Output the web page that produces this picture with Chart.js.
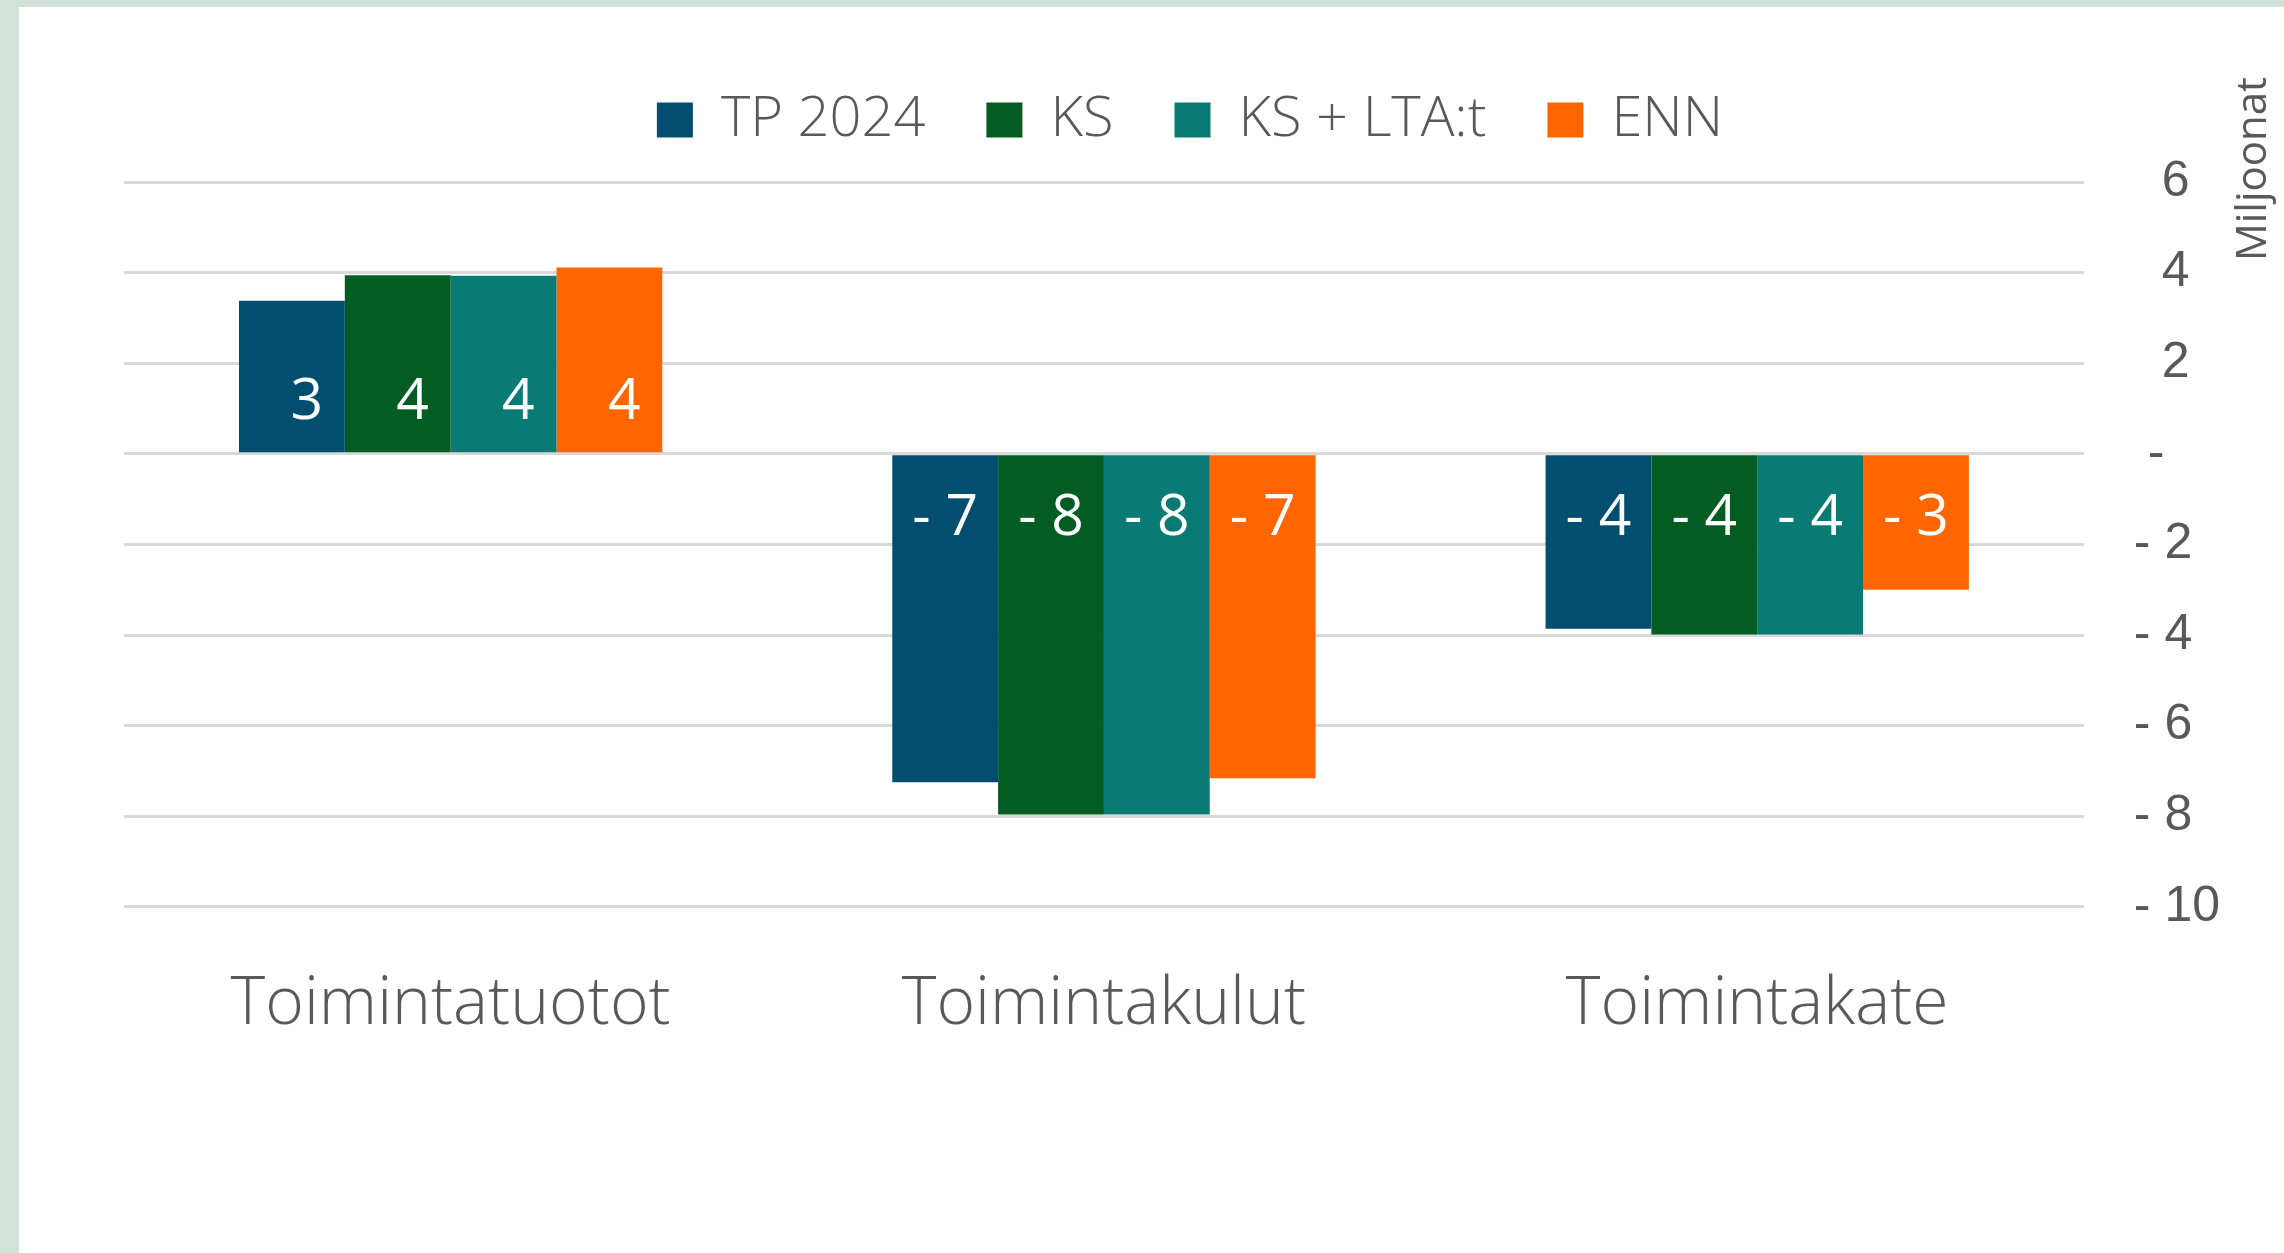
<!DOCTYPE html>
<html>
<head>
<meta charset="utf-8">
<script src="https://cdn.jsdelivr.net/npm/chart.js@4.4.1/dist/chart.umd.min.js"></script>
<style>
    html, body {
        margin: 0;
        padding: 0;
        width: 2284px;
        height: 1253px;
        overflow: hidden;
        background: #d3e2d6;
    }
    #wrap {
        position: absolute;
        left: 19px;
        top: 7px;
        width: 2265px;
        height: 1246px;
        background: #ffffff;
    }
</style>
</head>
<body>
<div id="wrap"><canvas id="chart"></canvas></div>
<script>
const categories = ["Toimintatuotot", "Toimintakulut", "Toimintakate"]
const seriesNames = ["TP 2024", "KS", "KS + LTA:t", "ENN"]
const tp2024 = [3.38, -7.25, -3.86]
const ks = [3.94, -7.96, -3.99]
const ksLta = [3.93, -7.96, -3.99]
const enn = [4.11, -7.16, -3.0]
const yTicks = [6, 4, 2, 0, -2, -4, -6, -8, -10]
const axisTitleText = "Miljoonat"

const colors = ["#024e6f", "#035c21", "#0a7a74", "#ff6600"]
const textGrey = "#595959"

// excel style "- 7", " -", "  3"
function fmtNum(v) {
    if (v < 0) return "- " + Math.abs(v)
    if (v === 0) return " -"
    return "  " + v
}

const barLabels = {
    id: "barLabels",
    afterDatasetsDraw(chart) {
        const ctx = chart.ctx
        ctx.save()
        ctx.font = "400 57px 'Open Sans'"
        ctx.fillStyle = "#ffffff"
        ctx.textAlign = "center"
        ctx.textBaseline = "alphabetic"
        chart.data.datasets.forEach((ds, i) => {
            chart.getDatasetMeta(i).data.forEach((bar, j) => {
                const v = Math.round(ds.data[j])
                const y = v >= 0 ? bar.base - 33 : bar.base + 80
                ctx.fillText(fmtNum(v), bar.x, y)
            })
        })
        ctx.restore()
    },
}

// right axis title reads bottom-to-top, chart.js would rotate it the other way
const axisTitle = {
    id: "axisTitle",
    afterDraw(chart) {
        const ctx = chart.ctx
        const yScale = chart.scales.y
        ctx.save()
        ctx.translate(yScale.right - 16, chart.chartArea.top - 13)
        ctx.rotate(-Math.PI / 2)
        ctx.font = "400 42px 'Open Sans'"
        ctx.fillStyle = textGrey
        ctx.textAlign = "center"
        ctx.textBaseline = "middle"
        ctx.fillText(axisTitleText, 0, 0)
        ctx.restore()
    },
}

const legendSpacing = {
    id: "legendSpacing",
    beforeLayout(chart) {
        const legend = chart.legend
        if (legend._patched) return
        const fit = legend.fit
        legend.fit = function () {
            fit.call(this)
            this.height += 24
        }
        legend._patched = true
    },
    afterLayout(chart) {
        chart.legend.left -= 7
        chart.legend.right -= 7
    },
}

const datasets = [tp2024, ks, ksLta, enn].map((data, i) => ({
    label: seriesNames[i],
    data: data,
    backgroundColor: colors[i],
    borderWidth: 0,
    barPercentage: 1,
    categoryPercentage: 0.648,
}))

Chart.defaults.font.family = "'Open Sans'"
Chart.defaults.color = textGrey

new Chart(document.getElementById("chart").getContext("2d"), {
    type: "bar",
    plugins: [barLabels, axisTitle, legendSpacing],
    data: {
        labels: categories,
        datasets,
    },
    options: {
        responsive: true,
        maintainAspectRatio: false,
        animation: false,
        layout: {
            padding: {
                top: 24,
                left: 105,
                right: 14,
                bottom: 157,
            },
        },
        plugins: {
            legend: {
                position: "top",
                labels: {
                    boxWidth: 36,
                    boxHeight: 35,
                    padding: 61,
                    color: textGrey,
                    font: {
                        size: 56,
                        weight: 300,
                    },
                },
            },
            tooltip: {
                enabled: false,
            },
        },
        scales: {
            x: {
                grid: {
                    display: false,
                },
                border: {
                    display: false,
                },
                ticks: {
                    padding: 51,
                    color: textGrey,
                    font: {
                        size: 66,
                        weight: 300,
                    },
                },
            },
            y: {
                position: "right",
                min: -10,
                max: 6,
                afterBuildTicks: (scale) => {
                    scale.ticks = yTicks.map((v) => ({ value: v }))
                },
                grid: {
                    color: "#d9d9d9",
                    lineWidth: 3,
                    drawTicks: false,
                },
                border: {
                    display: false,
                },
                ticks: {
                    padding: 50,
                    color: textGrey,
                    font: {
                        family: "'Liberation Sans'",
                        size: 50,
                    },
                    callback: (val) => fmtNum(val),
                },
            },
        },
    },
})
</script>
</body>
</html>
